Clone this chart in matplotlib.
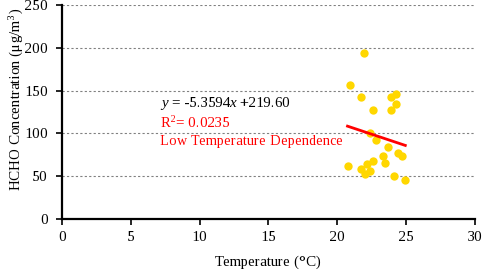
import matplotlib
matplotlib.use('Agg')
import matplotlib.pyplot as plt
import numpy as np

# HCHO concentration vs temperature
temp = [21.95, 20.9, 21.7, 23.9, 24.3, 24.3, 22.6, 23.9, 22.35, 22.8, 23.7, 23.3,
        24.4, 24.7, 20.8, 22.6, 22.2, 23.5, 21.7, 22.4, 22.0, 24.1, 24.9]
hcho = [193.6, 156.5, 142.0, 142.0, 146.0, 134.7, 127.7, 127.7, 100.5, 92.6, 84.0, 73.2,
        76.7, 73.2, 62.3, 67.7, 64.3, 65.8, 58.0, 56.4, 53.0, 49.9, 45.5]
slope, intercept = -5.3594, 219.60
fit_x = [20.75, 24.95]

plt.rcParams['font.family'] = ['Liberation Serif', 'DejaVu Serif']
plt.rcParams['mathtext.fontset'] = 'custom'
plt.rcParams['mathtext.rm'] = 'Liberation Serif'
plt.rcParams['mathtext.it'] = 'Liberation Serif:italic'
plt.rcParams['text.hinting'] = 'auto'
plt.rcParams['text.hinting_factor'] = 1

fig = plt.figure(figsize=(4.84, 2.72), dpi=100)
ax = fig.add_axes([0.128, 0.195, 0.853, 0.787])

ax.scatter(temp, hcho, s=36, color='#FFD700', zorder=3, linewidths=0)
fx = np.array(fit_x)
ax.plot(fx, slope * fx + intercept, color='#FF0000', lw=2, zorder=4)

ax.text(7.1, 135, r'$y$ = -5.3594$x$ +219.60', fontsize=10.8, color='black', va='center')
ax.text(7.1, 112, r'R$^{2}$= 0.0235', fontsize=10.5, color='#FF0000', va='center')
ax.text(7.1, 90, 'Low Temperature Dependence', fontsize=10.3, color='#FF0000', va='center')

ax.set_xlim(0, 30)
ax.set_ylim(0, 250)
ax.set_xticks(range(0, 31, 5))
ax.set_yticks(range(0, 251, 50))
ax.yaxis.grid(True, linestyle=(0, (2, 2)), color='#808080', lw=0.8)
ax.set_axisbelow(True)

for s in ['top', 'right']:
    ax.spines[s].set_visible(False)
for s in ['left', 'bottom']:
    ax.spines[s].set_linewidth(1.6)
ax.tick_params(direction='out', length=4, width=1.2, labelsize=11)
ax.tick_params(axis='x', pad=5)
ax.tick_params(axis='y', pad=6)

ax.set_xlabel('Temperature (°C)', fontsize=10.5, labelpad=8)
ax.set_ylabel('HCHO Concentration (μg/m$^{3}$)', fontsize=10.5)
ax.yaxis.set_label_coords(-0.088, 0.56)

fig.savefig('out.png', dpi=100)
